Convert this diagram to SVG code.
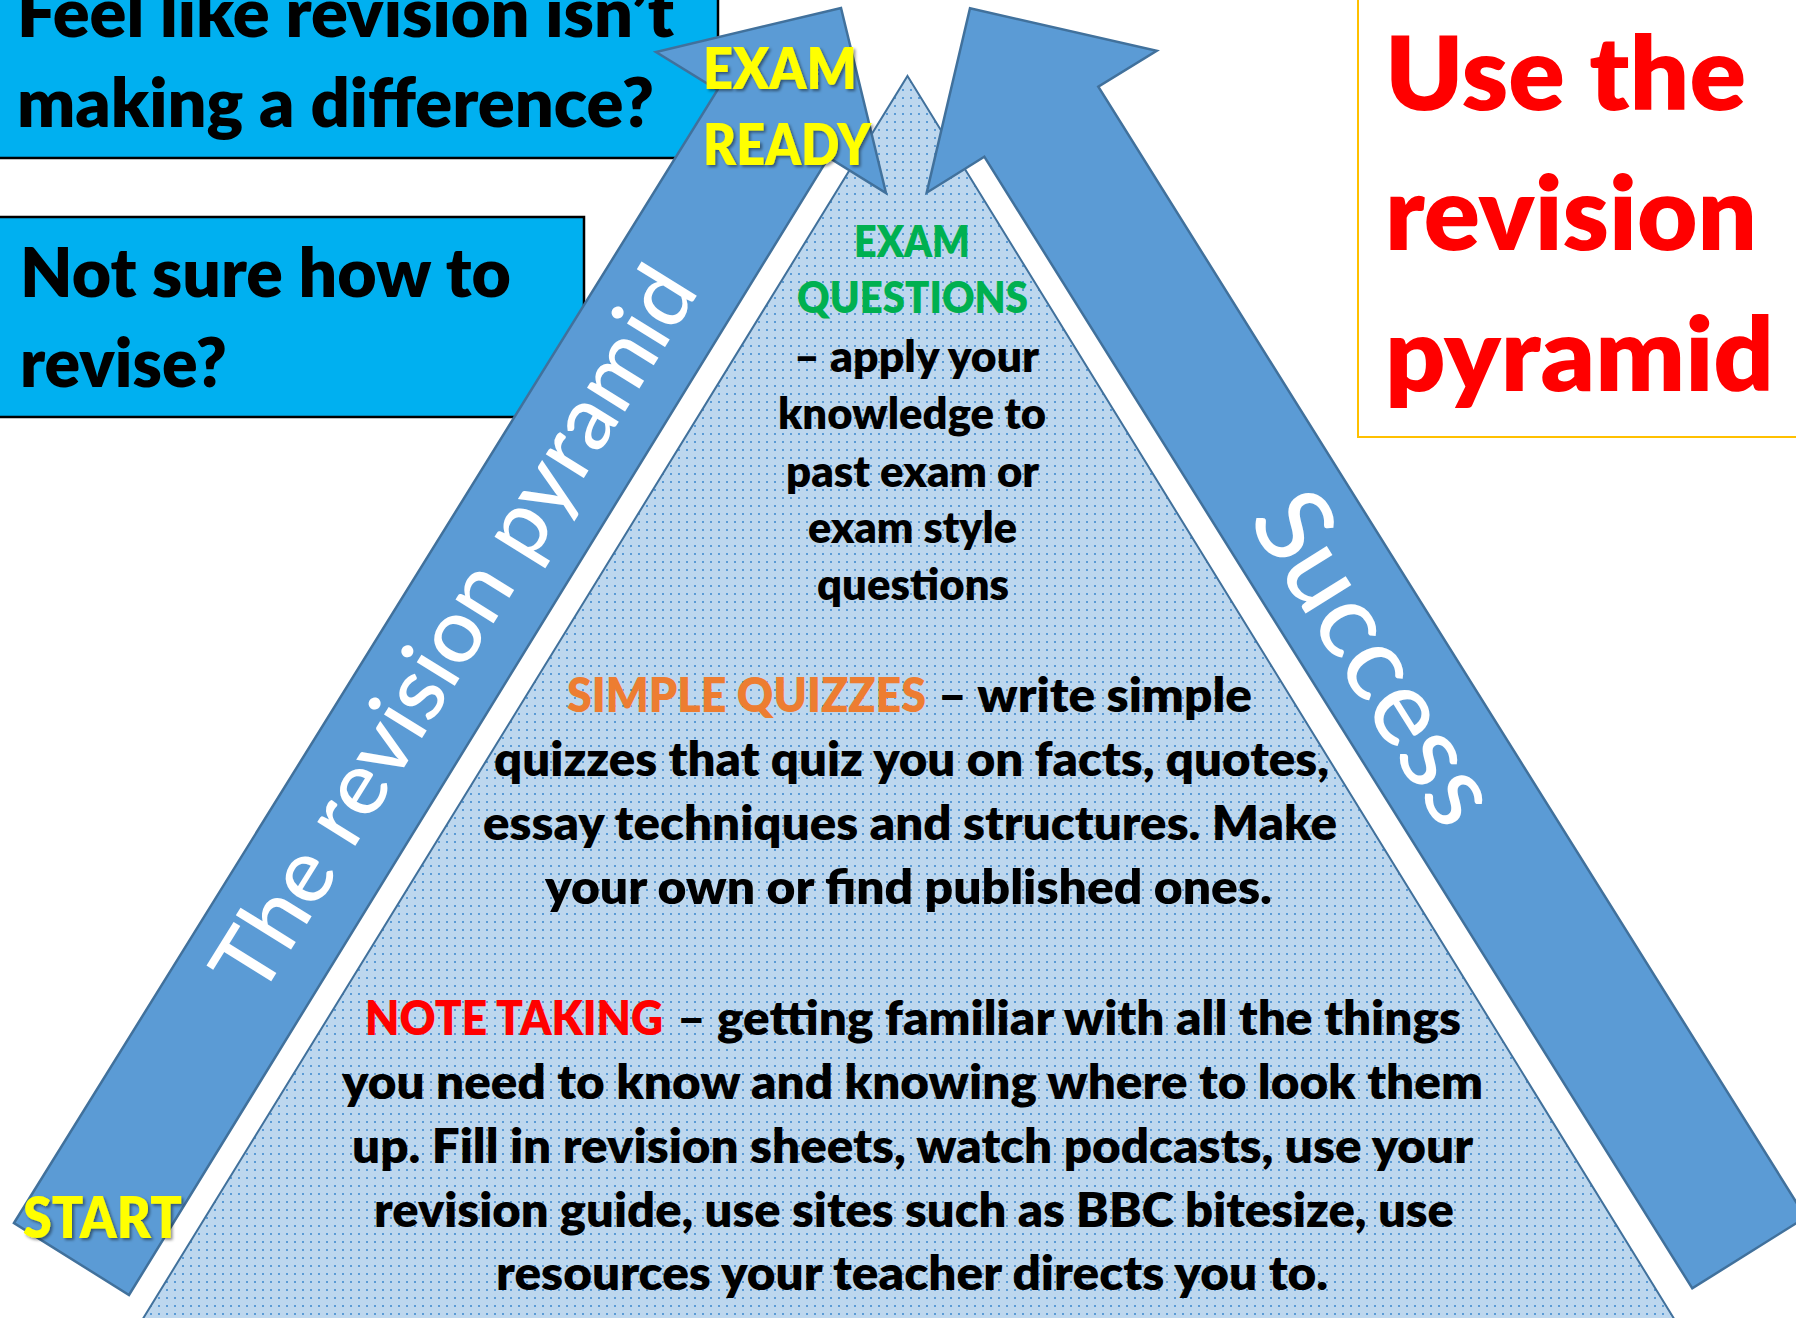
<svg xmlns="http://www.w3.org/2000/svg" width="1796" height="1318" viewBox="0 0 1796 1318">
<defs>
<pattern id="dots" width="8" height="8" patternUnits="userSpaceOnUse">
<rect width="8" height="8" fill="#BDD7EE"/>
<rect x="6" y="1" width="2" height="2" fill="#5B9BD5"/>
</pattern>
<filter id="shadow" x="-10%" y="-10%" width="130%" height="140%">
<feDropShadow dx="2" dy="2" stdDeviation="1.5" flood-color="#000" flood-opacity="0.45"/>
</filter>
<style>
.f{font-family:Lato,"Liberation Sans",sans-serif}
.bd{font-weight:800}
.rg{font-weight:500}
.box{fill:#00B0F0;stroke:#000;stroke-width:2.5}
.arrow{fill:#5B9BD5;stroke:#41719C;stroke-width:2.5;stroke-linejoin:miter}
.pyr{fill:url(#dots);stroke:#41719C;stroke-width:2}
.k{fill:#000}
.y{fill:#FFFF00}
.w{fill:#FFFFFF}
.red{fill:#FF0000}
.grn{fill:#00B050}
.org{fill:#ED7D31}
</style>
</defs>
<rect width="1796" height="1318" fill="#FFFFFF"/>

<g id="box-feel-like">
<rect class="box" x="-10" y="-10" width="728" height="168"/>
<text class="f bd k" font-size="68" x="17" y="37" textLength="657" lengthAdjust="spacingAndGlyphs">Feel like revision isn’t</text>
<text class="f bd k" font-size="68" x="17" y="127" textLength="637" lengthAdjust="spacingAndGlyphs">making a difference?</text>
</g>

<g id="box-not-sure">
<rect class="box" x="-10" y="217" width="594" height="200"/>
<text class="f bd k" font-size="68" x="20" y="297" textLength="491" lengthAdjust="spacingAndGlyphs">Not sure how to</text>
<text class="f bd k" font-size="68" x="20" y="387" textLength="207" lengthAdjust="spacingAndGlyphs">revise?</text>
</g>

<g id="box-title">
<rect x="1358" y="-10" width="460" height="447" fill="#FFFFFF" stroke="#FFC000" stroke-width="2"/>
<text class="f bd red" font-size="102" x="1385" y="110" textLength="361" lengthAdjust="spacingAndGlyphs">Use the</text>
<text class="f bd red" font-size="102" x="1385" y="250" textLength="372" lengthAdjust="spacingAndGlyphs">revision</text>
<text class="f bd red" font-size="102" x="1385" y="391" textLength="389" lengthAdjust="spacingAndGlyphs">pyramid</text>
</g>

<g id="pyramid">
<polygon class="pyr" points="907.5,76 1681,1330 136,1330"/>
</g>

<g id="connectors">
<g id="arrow-revision-pyramid">
<polygon class="arrow" points="14,1223 717.5,90 656,52 841,8 886,193 828.6,157.4 129,1295"/>
<text class="f rg w" font-size="88" x="0" y="0" textLength="835" lengthAdjust="spacingAndGlyphs" transform="translate(259.6,999.9) rotate(-58.16)">The revision pyramid</text>
<text class="f bd y" font-size="56" x="703" y="89" textLength="154" lengthAdjust="spacingAndGlyphs" filter="url(#shadow)">EXAM</text>
<text class="f bd y" font-size="56" x="703" y="165" textLength="168" lengthAdjust="spacingAndGlyphs" filter="url(#shadow)">READY</text>
<text class="f bd y" font-size="57" x="23" y="1238" textLength="159" lengthAdjust="spacingAndGlyphs" filter="url(#shadow)">START</text>
</g>
<g id="arrow-success">
<polygon class="arrow" points="984.3,156.7 926.7,192.7 970,8.3 1156.7,50.7 1098.3,86.7 1805.7,1217.3 1692.3,1288.3"/>
<text class="f rg w" font-size="106" x="0" y="0" textLength="370" lengthAdjust="spacingAndGlyphs" transform="translate(1247,520) rotate(57.97)">Success</text>
</g>
</g>

<g id="tier-exam-questions">
<text class="f bd grn" font-size="44" x="854" y="257" textLength="116" lengthAdjust="spacingAndGlyphs">EXAM</text>
<text class="f bd grn" font-size="44" x="797" y="313" textLength="231" lengthAdjust="spacingAndGlyphs">QUESTIONS</text>
<text class="f bd k" font-size="43" x="794" y="372" textLength="245" lengthAdjust="spacingAndGlyphs">– apply your</text>
<text class="f bd k" font-size="43" x="778" y="429" textLength="268" lengthAdjust="spacingAndGlyphs">knowledge to</text>
<text class="f bd k" font-size="43" x="786" y="487" textLength="253" lengthAdjust="spacingAndGlyphs">past exam or</text>
<text class="f bd k" font-size="43" x="808" y="543" textLength="209" lengthAdjust="spacingAndGlyphs">exam style</text>
<text class="f bd k" font-size="43" x="817" y="600" textLength="192" lengthAdjust="spacingAndGlyphs">questions</text>
</g>

<g id="tier-simple-quizzes">
<text class="f bd org" font-size="46.5" x="567" y="712" textLength="359" lengthAdjust="spacingAndGlyphs">SIMPLE QUIZZES</text>
<text class="f bd k" font-size="46.5" x="938" y="712" textLength="314" lengthAdjust="spacingAndGlyphs">– write simple</text>
<text class="f bd k" font-size="46.5" x="494" y="776" textLength="835" lengthAdjust="spacingAndGlyphs">quizzes that quiz you on facts, quotes,</text>
<text class="f bd k" font-size="46.5" x="483" y="840" textLength="854" lengthAdjust="spacingAndGlyphs">essay techniques and structures. Make</text>
<text class="f bd k" font-size="46.5" x="545" y="904" textLength="727" lengthAdjust="spacingAndGlyphs">your own or find published ones.</text>
</g>

<g id="tier-note-taking">
<text class="f bd red" font-size="46.5" x="365" y="1035" textLength="298" lengthAdjust="spacingAndGlyphs">NOTE TAKING</text>
<text class="f bd k" font-size="46.5" x="677" y="1035" textLength="784" lengthAdjust="spacingAndGlyphs">– getting familiar with all the things</text>
<text class="f bd k" font-size="46.5" x="342" y="1099" textLength="1141" lengthAdjust="spacingAndGlyphs">you need to know and knowing where to look them</text>
<text class="f bd k" font-size="46.5" x="352" y="1163" textLength="1121" lengthAdjust="spacingAndGlyphs">up. Fill in revision sheets, watch podcasts, use your</text>
<text class="f bd k" font-size="46.5" x="374" y="1227" textLength="1080" lengthAdjust="spacingAndGlyphs">revision guide, use sites such as BBC bitesize, use</text>
<text class="f bd k" font-size="46.5" x="496" y="1290" textLength="832" lengthAdjust="spacingAndGlyphs">resources your teacher directs you to.</text>
</g>
</svg>
